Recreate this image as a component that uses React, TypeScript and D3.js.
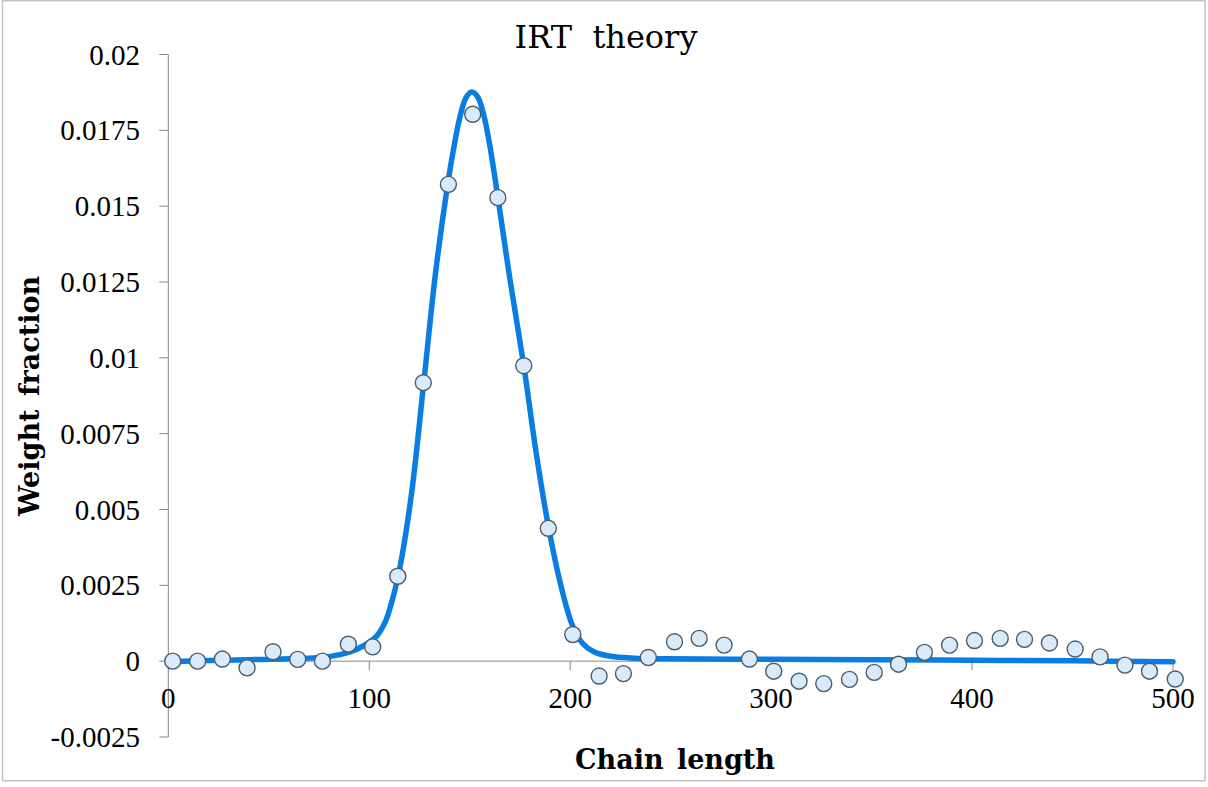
import React from "react";
import * as d3 from "d3";

const titleText = "IRT  theory";
const xLabel = "Chain length";
const yLabel = "Weight fraction";

const xTicks = [0, 100, 200, 300, 400, 500];
const xTickLabels = ["0", "100", "200", "300", "400", "500"];
const yTicks = [-0.0025, 0, 0.0025, 0.005, 0.0075, 0.01, 0.0125, 0.015, 0.0175, 0.02];
const yTickLabels = ["-0.0025", "0", "0.0025", "0.005", "0.0075", "0.01", "0.0125", "0.015", "0.0175", "0.02"];

// measured points (markers)
const pointX = [2.2, 14.6, 26.9, 39.2, 52.1, 64.4, 76.7, 89.6, 101.7, 114.2, 126.9, 139.4, 151.5, 164.0, 176.9, 189.1, 201.3, 214.4, 226.5, 238.9, 251.9, 264.2, 276.6, 289.2, 301.3, 313.9, 326.2, 339.0, 351.3, 363.4, 376.3, 388.8, 401.2, 414.0, 426.1, 438.5, 451.3, 463.7, 476.1, 488.3, 501.1];
const pointY = [0, 0, 0.00007, -0.00022, 0.00031, 0.00006, 0.0, 0.00056, 0.00047, 0.0028, 0.00918, 0.01572, 0.01803, 0.01528, 0.00974, 0.00438, 0.00088, -0.00049, -0.00041, 0.00012, 0.00064, 0.00075, 0.00053, 0.00007, -0.00033, -0.00066, -0.00074, -0.0006, -0.00037, -0.0001, 0.00029, 0.00053, 0.00068, 0.00075, 0.00072, 0.0006, 0.0004, 0.00014, -0.00013, -0.00033, -0.00059];

// theory curve
const curveX = [0, 20, 40, 60, 80, 90, 97, 104, 108, 111, 115, 121, 127, 133, 139, 142, 145, 148, 151, 154, 157, 160, 164, 170, 177, 183, 189, 195, 201, 206, 212, 220, 232, 250, 300, 350, 400, 450, 500];
const curveY = [-0.00002, 0.00002, 0.00005, 0.00008, 0.00015, 0.0003, 0.0005, 0.00085, 0.0013, 0.0019, 0.003, 0.0055, 0.0091, 0.0128, 0.0157, 0.0169, 0.0179, 0.01855, 0.01876, 0.0186, 0.0180, 0.0170, 0.0153, 0.0126, 0.0097, 0.0069, 0.0045, 0.0026, 0.0012, 0.0006, 0.0003, 0.00016, 0.0001, 0.00008, 0.00006, 0.00005, 0.00003, 0.00001, -0.00002];

export default function App() {
  const W = 1208, H = 787;
  const x = d3.scaleLinear().domain([0, 500]).range([168.3, 1173]);
  const y = d3.scaleLinear().domain([-0.0025, 0.02]).range([737, 54.5]);
  const line = d3
    .line<number>()
    .x((_, i) => x(curveX[i]))
    .y((d) => y(d))
    .curve(d3.curveCatmullRom.alpha(0.5));
  const axisColor = "#868686";
  const y0 = y(0);
  return (
    <svg width={W} height={H} style={{ position: "absolute", left: 0, top: 0, background: "#fff" }}>
      <rect x={2.5} y={0.75} width={1202.5} height={780} fill="#fff" stroke="#c3c3c3" strokeWidth={1.5} />
      <text x={606} y={48} textAnchor="middle" fontFamily="DejaVu Serif" fontSize={32} fill="#000" style={{ whiteSpace: "pre" }}>
        {titleText}
      </text>
      {/* y axis */}
      <line x1={x(0)} x2={x(0)} y1={y(0.02)} y2={y(-0.0025)} stroke={axisColor} strokeWidth={1} />
      {yTicks.map((t, i) => (
        <g key={"yt" + i}>
          <line x1={x(0) - 9} x2={x(0)} y1={y(t)} y2={y(t)} stroke={axisColor} strokeWidth={1} />
          <text x={140} y={y(t)} dy="0.35em" textAnchor="end" fontFamily="Liberation Serif" fontSize={29} fill="#000">
            {yTickLabels[i]}
          </text>
        </g>
      ))}
      {/* x axis */}
      <line x1={x(0)} x2={x(500)} y1={y0} y2={y0} stroke={axisColor} strokeWidth={1} />
      {xTicks.map((t, i) => (
        <g key={"xt" + i}>
          <line x1={x(t)} x2={x(t)} y1={y0} y2={y0 + 9} stroke={axisColor} strokeWidth={1} />
          <text x={x(t)} y={708} textAnchor="middle" fontFamily="Liberation Serif" fontSize={29} fill="#000">
            {xTickLabels[i]}
          </text>
        </g>
      ))}
      <text x={675} y={769} textAnchor="middle" fontFamily="DejaVu Serif" fontWeight="bold" fontSize={27} fill="#000" style={{ wordSpacing: "4px" }}>
        {xLabel}
      </text>
      <text
        transform={`translate(39,396) rotate(-90)`}
        textAnchor="middle"
        fontFamily="DejaVu Serif"
        fontWeight="bold"
        fontSize={27}
        fill="#000"
        style={{ wordSpacing: "4px" }}
      >
        {yLabel}
      </text>
      <path d={line(curveY) || ""} fill="none" stroke="#0a7de3" strokeWidth={5.5} strokeLinecap="round" strokeLinejoin="round" />
      {pointY.map((v, i) => (
        <circle key={"p" + i} cx={x(pointX[i])} cy={y(v)} r={8} fill="#d9ebfb" stroke="#4d5c6b" strokeWidth={1.4} />
      ))}
    </svg>
  );
}
